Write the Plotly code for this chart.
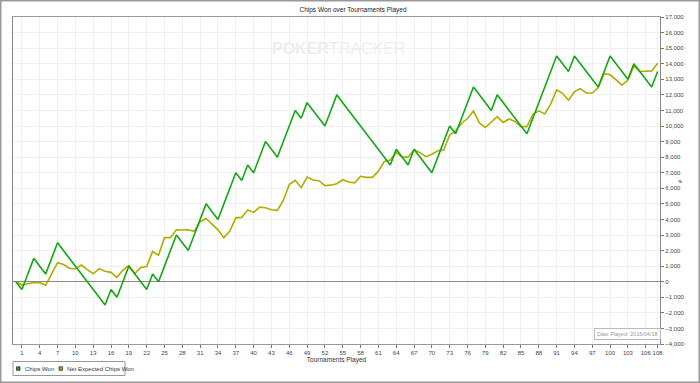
import plotly.graph_objects as go

# ---- data ----
tournaments = list(range(0, 109))
chips_won = [
    0, -500, 500, 1500, 1000, 500, 1500, 2500, 2000, 1500,
    1000, 500, 0, -500, -1000, -1500, -500, -1000, 0, 1000,
    500, 0, -500, 500, 0, 1000, 2000, 3000, 2500, 2000,
    3000, 4000, 5000, 4500, 4000, 5000, 6000, 7000, 6500, 7500,
    7000, 8000, 9000, 8500, 8000, 9000, 10000, 11000, 10500, 11500,
    11000, 10500, 10000, 11000, 12000, 11500, 11000, 10500, 10000, 9500,
    9000, 8500, 8000, 7500, 8500, 8000, 7500, 8500, 8000, 7500,
    7000, 8000, 9000, 10000, 9500, 10500, 11500, 12500, 12000, 11500,
    11000, 12000, 11500, 11000, 10500, 10000, 9500, 10500, 11500, 12500,
    13500, 14500, 14000, 13500, 14500, 14000, 13500, 13000, 12500, 13500,
    14500, 14000, 13500, 13000, 14000, 13500, 13000, 12500, 13500,
]
net_expected = [
    0, -200, -130, -50, -60, -220, 500, 1220, 1100, 870,
    820, 1070, 770, 510, 840, 670, 600, 280, 740, 1040,
    530, 920, 980, 1940, 1700, 2830, 2830, 3330, 3320, 3340,
    3240, 3850, 4060, 3710, 3330, 2830, 3250, 4100, 4130, 4610,
    4450, 4790, 4750, 4620, 4580, 5230, 6240, 6510, 6040, 6720,
    6530, 6490, 6170, 6200, 6290, 6550, 6400, 6350, 6770, 6700,
    6700, 7100, 7730, 7810, 8300, 8000, 8000, 8470, 8290, 8030,
    8190, 8410, 8460, 9420, 9690, 10180, 10480, 10960, 10200, 9900,
    10250, 10600, 10230, 10450, 10290, 9960, 9960, 10750, 10970, 10780,
    11410, 12320, 12100, 11650, 12200, 12400, 12120, 12120, 12470, 13350,
    13300, 12940, 12620, 12950, 13860, 13500, 13540, 13540, 14030,
]
x_tickvals = list(range(1, 107, 3)) + [108]
y_tickvals = list(range(-4000, 17001, 1000))
series_names = ["Chips Won", "Net Expected Chips Won"]

GREEN = "#14a614"
OLIVE = "#b2ab00"
FONT = "Liberation Sans"

fig = go.Figure()
fig.add_trace(go.Scatter(x=tournaments, y=net_expected, mode="lines", name=series_names[1],
                         line=dict(color=OLIVE, width=1.6), showlegend=False,
                         hoverinfo="skip"))
fig.add_trace(go.Scatter(x=tournaments, y=chips_won, mode="lines", name=series_names[0],
                         line=dict(color=GREEN, width=1.6), showlegend=False,
                         hoverinfo="skip"))

W, H = 700, 383
L, R, T, B = 13, 40, 17, 39
pw, ph = W - L - R, H - T - B

def px_x(p):
    return (p - L) / pw

def px_y(p):
    return (H - B - p) / ph

fig.update_layout(
    width=W, height=H,
    margin=dict(l=L, r=R, t=T, b=B, pad=0),
    paper_bgcolor="white", plot_bgcolor="white",
    font=dict(family=FONT, size=6, color="#333"),
    title=dict(text="Chips Won over Tournaments Played", x=px_x(353), xref="paper",
               xanchor="center", y=1 - 9.5 / H, yanchor="middle",
               font=dict(size=6.5, color="#222")),
    xaxis=dict(range=[-0.5, 108.4], tickvals=x_tickvals, ticks="outside",
               ticklen=3, tickcolor="#777", tickangle=0,
               showgrid=True, gridcolor="#f0f0f0",
               gridwidth=1, showline=True, linecolor="#999", linewidth=1.2,
               mirror=True, zeroline=False, tickfont=dict(size=6, color="#444"),
               title=dict(text="Tournaments Played", font=dict(size=6.5, color="#333"),
                          standoff=1)),
    yaxis=dict(range=[-4000, 17000], tickvals=y_tickvals, tickformat=",",
               side="right", ticks="outside", ticklen=3, tickcolor="#777",
               showgrid=True, gridcolor="#f0f0f0", gridwidth=1,
               showline=True, linecolor="#888", linewidth=1.2, mirror=True,
               zeroline=True, zerolinecolor="#888", zerolinewidth=1.2,
               tickfont=dict(size=6, color="#444")),
    showlegend=False,
)

# watermark
fig.add_annotation(text="<b>POKER</b>TRACKER", xref="paper", yref="paper",
                   x=px_x(338), y=px_y(38), showarrow=False,
                   font=dict(family=FONT, size=16, color="#eeeeee"))
# y-axis symbol
fig.add_annotation(text="#", xref="paper", yref="paper", x=px_x(685), y=px_y(181),
                   showarrow=False, textangle=-90, font=dict(size=5.5, color="#333"))
# date box
fig.add_annotation(text="Date Played: 2016/04/18", xref="paper", yref="paper",
                   x=px_x(627.5), y=px_y(334), xanchor="center", yanchor="middle",
                   showarrow=False,
                   font=dict(size=5.5, color="#999"), bordercolor="#bbb",
                   borderwidth=1, borderpad=2, bgcolor="white")

# manual legend
fig.add_shape(type="rect", xref="paper", yref="paper",
              x0=px_x(13), x1=px_x(125), y0=px_y(375.5), y1=px_y(361.5),
              line=dict(color="#999", width=1), fillcolor="white")
legend_items = [(series_names[0], GREEN, 16.5, 22.5), (series_names[1], OLIVE, 59, 64.5)]
for name, col, sx, tx in legend_items:
    fig.add_shape(type="rect", xref="paper", yref="paper",
                  x0=px_x(sx), x1=px_x(sx + 3.5), y0=px_y(370.3), y1=px_y(366.8),
                  line=dict(color="#333", width=0.8), fillcolor=col)
    fig.add_annotation(text=name, xref="paper", yref="paper", x=px_x(tx),
                       y=px_y(368.5), xanchor="left", yanchor="middle", showarrow=False,
                       font=dict(size=6, color="#333"))

# outer frame
fig.add_shape(type="rect", xref="paper", yref="paper",
              x0=px_x(0.75), x1=px_x(699.25), y0=px_y(382.25), y1=px_y(0.75),
              line=dict(color="#999", width=1.5), fillcolor="rgba(0,0,0,0)")

fig.write_html("out.html", config={"displayModeBar": False},
               post_script="document.body.style.margin='0px';")
